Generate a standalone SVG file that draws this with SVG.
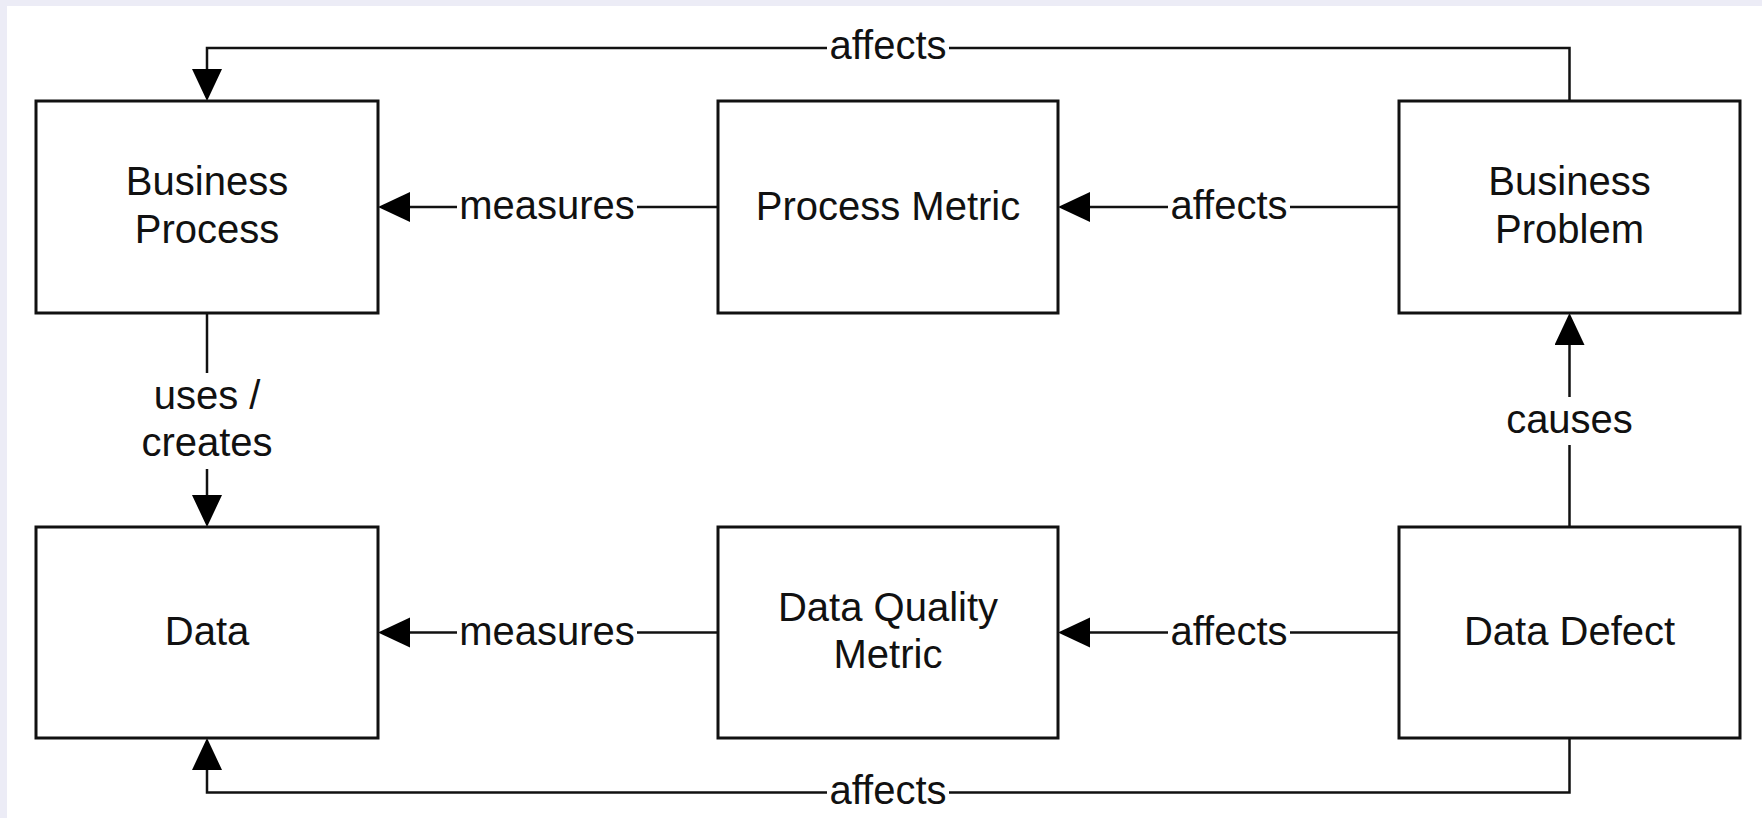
<svg xmlns="http://www.w3.org/2000/svg" width="1762" height="818" viewBox="0 0 1762 818">
  <style>
    .box { fill: #ffffff; stroke: #111111; stroke-width: 3; }
    .lbl { font-family: "Liberation Sans", Arial, sans-serif; font-size: 40px; fill: #111111; text-anchor: middle; }
    .edge { fill: none; stroke: #111111; stroke-width: 2.5; }
    .bg { fill: #ffffff; stroke: none; }
  </style>
  <defs>
    <marker id="arrow" markerUnits="userSpaceOnUse" markerWidth="33" markerHeight="31" refX="0" refY="15" orient="auto" viewBox="0 0 33 31">
      <path d="M0,0 L32,15 L0,30 Z" fill="#000000"/>
    </marker>
  </defs>
  <rect x="0" y="0" width="1762" height="818" fill="#ececf6"/>
  <rect x="7" y="6" width="1755" height="812" fill="#ffffff"/>

  <g id="connectors">
    <path class="edge" d="M1569.5,101 V48 H207 V69" marker-end="url(#arrow)"/>
    <path class="edge" d="M718,207 H410" marker-end="url(#arrow)"/>
    <path class="edge" d="M1399,207 H1090" marker-end="url(#arrow)"/>
    <path class="edge" d="M207,313 V495" marker-end="url(#arrow)"/>
    <path class="edge" d="M1569.5,527 V345" marker-end="url(#arrow)"/>
    <path class="edge" d="M718,632.5 H410" marker-end="url(#arrow)"/>
    <path class="edge" d="M1399,632.5 H1090" marker-end="url(#arrow)"/>
    <path class="edge" d="M1569.5,738 V792.5 H207 V770" marker-end="url(#arrow)"/>

    <rect class="bg" x="827" y="29" width="122" height="40"/>
    <text class="lbl" x="888" y="59">affects</text>
    <rect class="bg" x="457" y="189" width="180" height="40"/>
    <text class="lbl" x="547" y="219">measures</text>
    <rect class="bg" x="1168" y="189" width="122" height="40"/>
    <text class="lbl" x="1229" y="219">affects</text>
    <rect class="bg" x="130" y="373" width="154" height="96"/>
    <text class="lbl" x="207" y="409">uses /</text>
    <text class="lbl" x="207" y="456">creates</text>
    <rect class="bg" x="1500" y="397" width="139" height="48"/>
    <text class="lbl" x="1569.5" y="433">causes</text>
    <rect class="bg" x="457" y="614" width="180" height="40"/>
    <text class="lbl" x="547" y="645">measures</text>
    <rect class="bg" x="1168" y="614" width="122" height="40"/>
    <text class="lbl" x="1229" y="645">affects</text>
    <rect class="bg" x="827" y="774" width="122" height="40"/>
    <text class="lbl" x="888" y="804">affects</text>
  </g>

  <g id="business-process">
    <rect class="box" x="36" y="101" width="342" height="212"/>
    <text class="lbl" x="207" y="195">Business</text>
    <text class="lbl" x="207" y="243">Process</text>
  </g>
  <g id="process-metric">
    <rect class="box" x="718" y="101" width="340" height="212"/>
    <text class="lbl" x="888" y="220">Process Metric</text>
  </g>
  <g id="business-problem">
    <rect class="box" x="1399" y="101" width="341" height="212"/>
    <text class="lbl" x="1569.5" y="195">Business</text>
    <text class="lbl" x="1569.5" y="243">Problem</text>
  </g>
  <g id="data">
    <rect class="box" x="36" y="527" width="342" height="211"/>
    <text class="lbl" x="207" y="645">Data</text>
  </g>
  <g id="data-quality-metric">
    <rect class="box" x="718" y="527" width="340" height="211"/>
    <text class="lbl" x="888" y="621">Data Quality</text>
    <text class="lbl" x="888" y="668">Metric</text>
  </g>
  <g id="data-defect">
    <rect class="box" x="1399" y="527" width="341" height="211"/>
    <text class="lbl" x="1569.5" y="645">Data Defect</text>
  </g>
</svg>
